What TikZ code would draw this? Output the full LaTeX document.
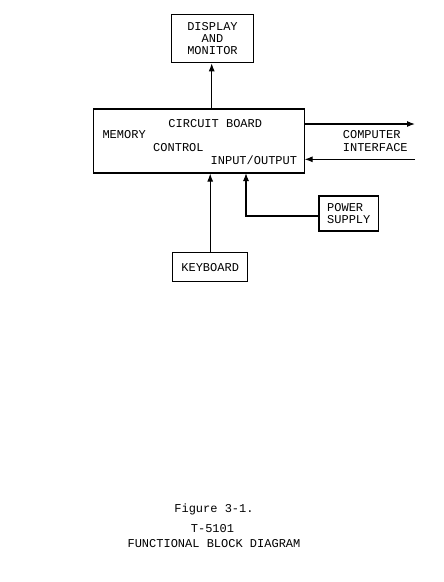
\documentclass[tikz,border=0pt]{standalone}
\usepackage{fontspec}
\setmainfont{Liberation Mono}
\usetikzlibrary{arrows.meta}

\begin{document}
\begin{tikzpicture}[
    x=1pt, y=-1pt,
    every node/.style={font=\fontsize{12}{12.3}\selectfont},
]

% ================================================================
% Geometry: one unit = one pixel of the 444 x 582 page, y downwards.
%
%   circuit board  x 93 .. 304,  y 109 .. 173
%   display above, keyboard below, power supply off to the lower right
%   computer interface: two arrows leaving the right edge
%   caption centred near x = 214, at the foot of the page
% ================================================================

\tikzset{
    block/.style={
        draw, line width=1.1pt, inner sep=0pt, align=center,
    },
    flow/.style={
        draw, line width=1.1pt,
        -{Latex[length=8pt, width=6pt]},
    },
    lbl/.style={inner sep=0pt},
}

\useasboundingbox (0,0) rectangle (444,582);

% ---------------------------------------------------------------- the blocks
\node[block, minimum width=81.6pt, minimum height=48pt] (disp) at (212.5, 38.7)
    {DISPLAY\\AND\\MONITOR};
\node[block, minimum width=210.7pt, minimum height=64pt] (board) at (198.7, 141) {};
\node[block, minimum width=75pt, minimum height=29pt] (kbd) at (210.2, 267.2)
    {KEYBOARD};
\node[block, align=left, minimum width=59.7pt, minimum height=35pt] (psu) at (348.8, 213.5)
    {POWER\\SUPPLY};

% ---------------------------------------------------------------- board texts
\node[lbl] (cb) at (215.3, 123.3) {CIRCUIT BOARD};
\node[lbl, anchor=west] (mem) at (102.3, 135) {MEMORY};
\node[lbl, anchor=west] (ctl) at (153, 148) {CONTROL};
\node[lbl, anchor=east] (io) at (297.3, 160) {INPUT/OUTPUT};

% ---------------------------------------------------------------- connectors
\coordinate (ciout) at (415, 124);
\coordinate (ciin) at (415, 159.3);
\coordinate (pwrin) at (246, 173);

\draw[flow] (board.north -| 211.7,0) -- (disp.south -| 211.7,0);
\draw[flow] (kbd.north) -- (kbd.north |- board.south);
\draw[flow] ([yshift=-2.5pt]psu.west) -| (pwrin);
\draw[flow] (board.east |- ciout) -- (ciout);
\draw[flow] (ciin) -- (board.east |- ciin);

\node[lbl, align=left] (ci) at (375.3, 141) {COMPUTER\\INTERFACE};

% ---------------------------------------------------------------- caption
\node[lbl, anchor=base] (fig) at (214, 512) {Figure 3-1.};
\node[lbl] (model) at (212.5, 529) {T-5101};
\node[lbl] (title) at (214, 544) {FUNCTIONAL BLOCK DIAGRAM};

\end{tikzpicture}
\end{document}
